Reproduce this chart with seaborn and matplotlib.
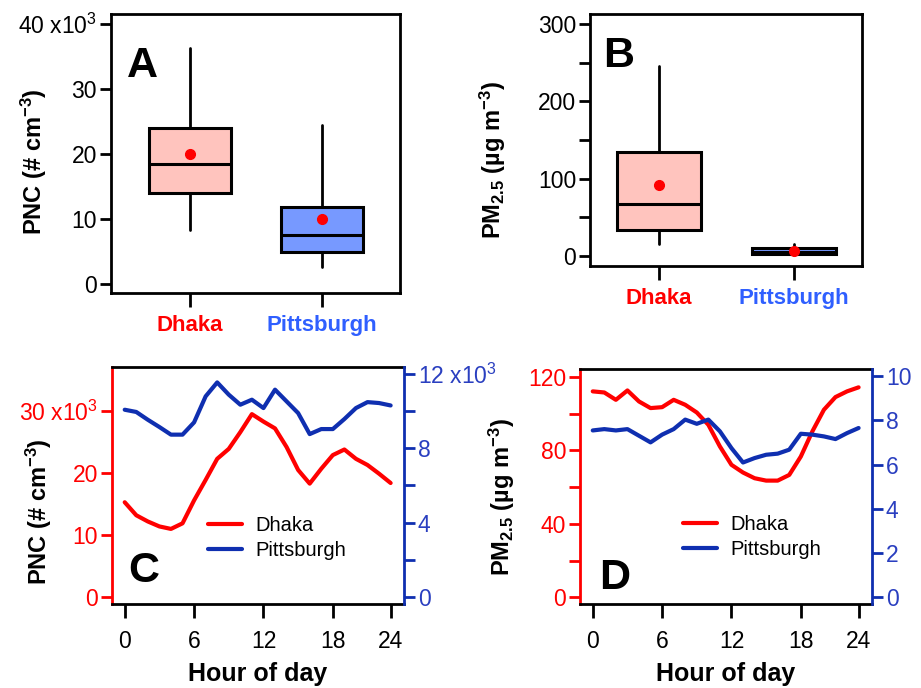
import matplotlib
matplotlib.use("Agg")
import matplotlib.pyplot as plt
import numpy as np
import pandas as pd
import seaborn as sns
from matplotlib.ticker import MultipleLocator, FixedLocator, FixedFormatter

# ---- data ----
cities = ["Dhaka", "Pittsburgh"]

# box summaries: whisker low, Q1, median, Q3, whisker high, mean
pnc_box = {"Dhaka": [8.3, 13.9, 18.5, 24.0, 36.3, 20.0],
           "Pittsburgh": [2.6, 4.9, 7.5, 11.9, 24.5, 10.0]}
pm_box = {"Dhaka": [16, 34, 67, 135, 246, 92],
          "Pittsburgh": [1.5, 2, 5, 10, 15, 7]}

hours = list(range(24))
pnc_dhaka = [15.3, 13.2, 12.2, 11.4, 11.0, 11.9, 15.6, 18.9, 22.3, 23.9, 26.6, 29.5,
             28.3, 27.2, 24.2, 20.5, 18.3, 20.7, 22.9, 23.8, 22.3, 21.3, 19.9, 18.4]
pnc_pitt = [10.07, 9.95, 9.53, 9.14, 8.73, 8.73, 9.39, 10.79, 11.54, 10.88, 10.34, 10.61,
            10.16, 11.15, 10.52, 9.89, 8.76, 9.03, 9.03, 9.57, 10.16, 10.48, 10.43, 10.30]
pm_dhaka = [112.2, 111.6, 107.6, 112.7, 106.7, 103.1, 103.6, 107.6, 104.9, 100.7, 94.0, 82.2,
            72.2, 68.0, 64.9, 63.6, 63.6, 66.7, 76.7, 90.4, 102.2, 109.1, 112.2, 114.4]
pm_pitt = [7.55, 7.61, 7.55, 7.61, 7.31, 7.01, 7.36, 7.61, 8.04, 7.85, 8.04, 7.51,
           6.75, 6.10, 6.30, 6.45, 6.50, 6.68, 7.40, 7.36, 7.28, 7.16, 7.43, 7.66]

hour_tick_pos = [0, 6, 12, 18, 23]
hour_tick_labels = ["0", "6", "12", "18", "24"]

RED = "#ff0000"
BLUE_LINE = "#0f2fb0"
BLUE_TXT = "#2f5fff"
BLUE_TICK = "#2a3fc0"
PINK = "#ffc4be"
LBLUE = "#7799ff"

sns.set_theme(style="white")
plt.rcParams["font.family"] = ["Liberation Sans", "DejaVu Sans"]
plt.rcParams["mathtext.default"] = "regular"
plt.rcParams["axes.linewidth"] = 2.0
plt.rcParams["xtick.bottom"] = True
plt.rcParams["ytick.left"] = True
plt.rcParams["text.color"] = "black"
plt.rcParams["axes.labelcolor"] = "black"
plt.rcParams["xtick.color"] = "black"
plt.rcParams["ytick.color"] = "black"

fig = plt.figure(figsize=(9.21, 6.88), dpi=100)
axA = fig.add_axes([0.1205, 0.5741, 0.3138, 0.4056])
axB = fig.add_axes([0.6406, 0.6134, 0.2953, 0.3663])
axC = fig.add_axes([0.1216, 0.1221, 0.3171, 0.3445])
axD = fig.add_axes([0.6298, 0.1221, 0.3170, 0.3416])

TICK = dict(direction="out", length=8, width=2, labelsize=16.5, pad=2)
LETTER = dict(fontsize=31, fontweight="bold", va="baseline", ha="left", color="black")


def draw_box(ax, box):
    stats = []
    for c in cities:
        lo, q1, med, q3, hi, mean = box[c]
        stats.append(dict(whislo=lo, q1=q1, med=med, q3=q3, whishi=hi, mean=mean, label=c))
    parts = ax.bxp(stats, positions=[0, 1], widths=0.62, patch_artist=True, showmeans=True,
                   showcaps=False, showfliers=False,
                   boxprops=dict(linewidth=2.2, edgecolor="black"),
                   medianprops=dict(color="black", linewidth=2.2),
                   whiskerprops=dict(color="black", linewidth=2.0),
                   meanprops=dict(marker="o", markerfacecolor=RED, markeredgecolor=RED,
                                  markersize=7))
    for patch, col in zip(parts["boxes"], [PINK, LBLUE]):
        patch.set_facecolor(col)
    ax.set_xticks([0, 1])
    ax.set_xticklabels(cities, fontsize=16, fontweight="bold")
    for lab, col in zip(ax.get_xticklabels(), [RED, BLUE_TXT]):
        lab.set_color(col)
    ax.tick_params(axis="both", **TICK)
    ax.tick_params(axis="x", length=10, pad=6, labelsize=16)
    ax.tick_params(axis="y", which="minor", direction="out", length=8, width=2, left=True)
    for s in ax.spines.values():
        s.set_color("black")
        s.set_linewidth(2.0)


# ---- A ----
draw_box(axA, pnc_box)
axA.set_xlim(-0.6, 1.59)
axA.set_ylim(-1.4, 41.5)
axA.yaxis.set_major_locator(FixedLocator([0, 10, 20, 30, 40]))
axA.yaxis.set_major_formatter(FixedFormatter(["0", "10", "20", "30", "40 x10$^{3}$"]))
axA.set_ylabel("PNC (# cm$^{-3}$)", fontsize=17, fontweight="bold")
axA.yaxis.set_label_coords(-0.215, 0.47)
axA.text(0.055, 0.774, "A", transform=axA.transAxes, **LETTER)

# ---- B ----
draw_box(axB, pm_box)
axB.set_xlim(-0.51, 1.5)
axB.set_ylim(-13, 313)
axB.yaxis.set_major_locator(MultipleLocator(100))
axB.yaxis.set_minor_locator(MultipleLocator(50))
axB.set_ylabel("PM$_{2.5}$ (µg m$^{-3}$)", fontsize=17, fontweight="bold")
axB.yaxis.set_label_coords(-0.30, 0.42)
axB.text(0.05, 0.79, "B", transform=axB.transAxes, **LETTER)


# ---- C and D (diurnal, twin axes) ----
def diurnal(ax, left_vals, right_vals, left_lim, right_lim):
    df = pd.DataFrame({"hour": hours, "left": left_vals, "right": right_vals})
    ax2 = ax.twinx()
    sns.lineplot(data=df, x="hour", y="left", ax=ax, color=RED, linewidth=3, label="Dhaka",
                 legend=False)
    sns.lineplot(data=df, x="hour", y="right", ax=ax2, color=BLUE_LINE, linewidth=3,
                 label="Pittsburgh", legend=False)
    ax.set_xlim(-1.1, 24.16)
    ax.set_ylim(*left_lim)
    ax2.set_ylim(*right_lim)
    ax.set_xticks(hour_tick_pos)
    ax.set_xticklabels(hour_tick_labels)
    ax.set_xlabel("Hour of day", fontsize=18, fontweight="bold", labelpad=6)
    ax2.set_ylabel("")
    ax.tick_params(axis="x", direction="out", length=10, width=2, labelsize=16.5, pad=9,
                   colors="black")
    ax.tick_params(axis="y", which="both", direction="out", length=8, width=2,
                   labelsize=16.5, pad=2, colors=RED, left=True)
    ax2.tick_params(axis="y", which="both", direction="out", length=8, width=2,
                    labelsize=16.5, pad=2, colors=BLUE_LINE, right=True)
    ax.spines["left"].set_color(RED)
    ax.spines["right"].set_visible(False)
    ax.spines["top"].set_color("black")
    ax.spines["bottom"].set_color("black")
    ax2.spines["left"].set_visible(False)
    ax2.spines["top"].set_visible(False)
    ax2.spines["bottom"].set_visible(False)
    ax2.spines["right"].set_color(BLUE_LINE)
    for s in ["left", "top", "bottom"]:
        ax.spines[s].set_linewidth(2.0)
    ax2.spines["right"].set_linewidth(2.0)
    h1, l1 = ax.get_legend_handles_labels()
    h2, l2 = ax2.get_legend_handles_labels()
    return ax2, h1 + h2, l1 + l2


LEG = dict(loc="upper left", frameon=False, fontsize=14.5, handlelength=1.7,
           handletextpad=0.65, borderpad=0.2, labelspacing=0.3)

axC2, hC, lC = diurnal(axC, pnc_dhaka, pnc_pitt, (-1.1, 37.1), (-0.38, 12.37))
axC.yaxis.set_major_locator(FixedLocator([0, 10, 20, 30]))
axC.yaxis.set_major_formatter(FixedFormatter(["0", "10", "20", "30 x10$^{3}$"]))
axC2.yaxis.set_major_locator(FixedLocator([0, 4, 8, 12]))
axC2.yaxis.set_major_formatter(FixedFormatter(["0", "4", "8", "12 x10$^{3}$"]))
axC2.yaxis.set_minor_locator(MultipleLocator(2))
axC.set_ylabel("PNC (# cm$^{-3}$)", fontsize=17, fontweight="bold", color="black")
axC.yaxis.set_label_coords(-0.20, 0.39)
axC.legend(hC, lC, bbox_to_anchor=(0.28, 0.43), **LEG)
axC.text(0.055, 0.093, "C", transform=axC.transAxes, **LETTER)

axD2, hD, lD = diurnal(axD, pm_dhaka, pm_pitt, (-3.6, 124.4), (-0.3, 10.33))
axD.yaxis.set_major_locator(MultipleLocator(40))
axD.yaxis.set_minor_locator(MultipleLocator(20))
axD2.yaxis.set_major_locator(MultipleLocator(2))
axD.set_ylabel("PM$_{2.5}$ (µg m$^{-3}$)", fontsize=17, fontweight="bold", color="black")
axD.yaxis.set_label_coords(-0.215, 0.455)
axD.legend(hD, lD, bbox_to_anchor=(0.305, 0.44), **LEG)
axD.text(0.065, 0.064, "D", transform=axD.transAxes, **LETTER)

for a in [axC2, axD2]:
    for lab in a.get_yticklabels():
        lab.set_color(BLUE_TICK)

fig.savefig("out.png", dpi=100)
